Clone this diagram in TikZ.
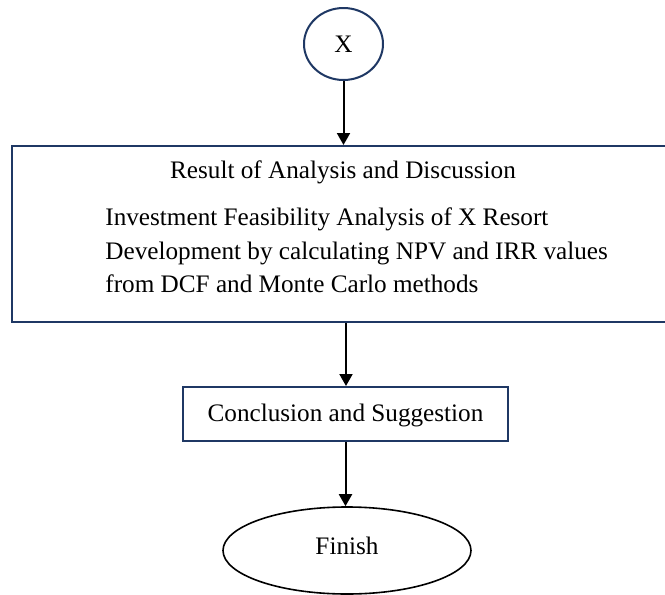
\documentclass[tikz,border=0pt]{standalone}
\usepackage{fontspec}
\setmainfont{Liberation Serif}
\usetikzlibrary{shapes.geometric,arrows.meta}
\definecolor{navy}{RGB}{31,56,100}
\begin{document}
\begin{tikzpicture}[x=0.5pt,y=-0.5pt,
  navybox/.style={draw=navy,line width=1pt,rectangle,inner sep=0pt},
  navyoval/.style={draw=navy,line width=1pt,ellipse,inner sep=0pt},
  blackoval/.style={draw=black,line width=0.8pt,ellipse,inner sep=0pt},
  txt/.style={font=\fontsize{12.6}{15}\selectfont,inner sep=0pt},
  flow/.style={draw=black,line width=1pt,-{Triangle[width=6.5pt,length=6pt]}}]
\useasboundingbox (0,0) rectangle (665,595);
\clip (0,0) rectangle (665,595);
\node[navyoval,minimum width=39.5pt,minimum height=36pt] (X) at (343.5,44) {};
\node[txt,anchor=base] (Xt) at (343.5,52) {X};
\node[navybox,minimum width=334pt,minimum height=88pt] (res) at (346,234) {};
\node[txt,anchor=base] (title) at (343,178) {Result of Analysis and Discussion};
\node[txt,anchor=base west] (l1) at (105,225) {Investment Feasibility Analysis of X Resort};
\node[txt,anchor=base west] (l2) at (105,259) {Development by calculating NPV and IRR values};
\node[txt,anchor=base west] (l3) at (105,292) {from DCF and Monte Carlo methods};
\node[navybox,minimum width=162.5pt,minimum height=27pt] (concl) at (345.5,414) {};
\node[txt,anchor=base] (conclt) at (345.5,421) {Conclusion and Suggestion};
\node[blackoval,minimum width=124pt,minimum height=43.5pt] (fin) at (347,550.5) {};
\node[txt,anchor=base] (fint) at (347,554) {Finish};
\draw[flow] (X.south) -- (X.south |- res.north);
\draw[flow] (res.south) -- (res.south |- concl.north);
\draw[flow] (concl.south) -- (concl.south |- fin.north);
\end{tikzpicture}
\end{document}
